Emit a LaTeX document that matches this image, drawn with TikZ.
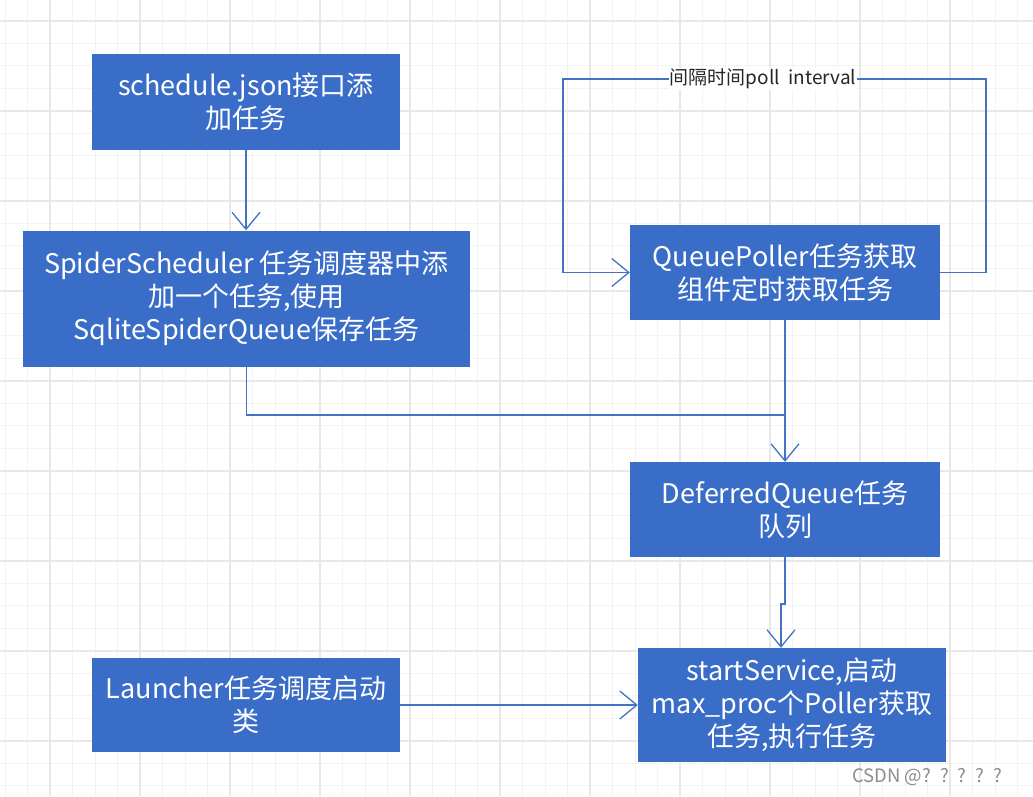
\documentclass[tikz,border=0pt]{standalone}
\usepackage{fontspec}
\setmainfont{Noto Sans CJK SC}
\usetikzlibrary{arrows.meta}
\definecolor{boxblue}{HTML}{3A6DC7}
\definecolor{lineblue}{HTML}{4472C4}
\definecolor{gridminor}{HTML}{F3F3F3}
\definecolor{gridmajor}{HTML}{E8E8E8}
\definecolor{wmgray}{HTML}{8C8C8C}
\tikzset{
  box/.style={fill=boxblue, draw=none, text=white, align=center, inner sep=0pt,
    font=\fontsize{27}{33}\selectfont},
  line/.style={draw=lineblue, line width=1.3pt},
  conn/.style={line, -{Straight Barb[length=17pt,width=28pt,line width=1.3pt]}},
  lbl/.style={fill=white, inner sep=1pt, text=black!85, font=\fontsize{19}{22}\selectfont},
}
\begin{document}
\begin{tikzpicture}[x=1pt,y=-1pt]
\useasboundingbox (0,0) rectangle (1033,796);
\fill[white] (0,0) rectangle (1033,796);
% grid
\foreach \i in {0,...,46} \draw[gridminor, line width=1pt] ({5+22.5*\i},0) -- ++(0,796);
\foreach \i in {0,...,36} \draw[gridminor, line width=1pt] (0,{-1.8+22.5*\i}) -- ++(1033,0);
\foreach \i in {0,...,10} \draw[gridmajor, line width=1.6pt] ({50+90*\i},0) -- ++(0,796);
\foreach \i in {0,...,8} \draw[gridmajor, line width=1.6pt] (0,{20.7+90*\i}) -- ++(1033,0);

% nodes
\node[box, minimum width=308pt, minimum height=96pt] (s1) at (246,102) {schedule.json接口添\\加任务};
\node[box, minimum width=447pt, minimum height=136pt] (s2) at (246.5,298.5) {SpiderScheduler 任务调度器中添\\加一个任务,使用\\SqliteSpiderQueue保存任务};
\node[box, minimum width=310pt, minimum height=95pt] (qp) at (785,272.5) {QueuePoller任务获取\\组件定时获取任务};
\node[box, minimum width=310pt, minimum height=95pt] (dq) at (785,509.5) {DeferredQueue任务\\队列};
\node[box, minimum width=308pt, minimum height=94pt] (la) at (246,705) {Launcher任务调度启动\\类};
\node[box, minimum width=308pt, minimum height=114pt] (ss) at (792,705) {startService,启动\\max\_proc个Poller获取\\任务,执行任务};

% coordinates
\coordinate (m) at (785,415);
\coordinate (rt) at (986,79);
\coordinate (lt) at (563,79);
\coordinate (j1) at (785,604);
\coordinate (j2) at (781,604);

% connectors
\draw[conn] (s1.south) -- (s1.south |- s2.north);
\draw[line] (s2.south) |- (m);
\draw[conn] (qp.south) -- (dq.north);
\draw[conn] (qp.east) -| (rt) -- node[lbl, pos=0.527] {间隔时间poll\ \ interval} (lt) |- (qp.west);
\draw[conn] (dq.south) -- (j1) -- (j2) -- (j2 |- ss.north);
\draw[conn] (la.east) -- (la.east -| ss.west);

% watermark
\node[text=wmgray, font=\fontsize{18.5}{20}\selectfont, inner sep=0pt, anchor=west] (wm) at (852,777) {CSDN @?\hspace{9pt}?\hspace{9pt}?\hspace{9pt}?\hspace{9pt}?};
\end{tikzpicture}
\end{document}
